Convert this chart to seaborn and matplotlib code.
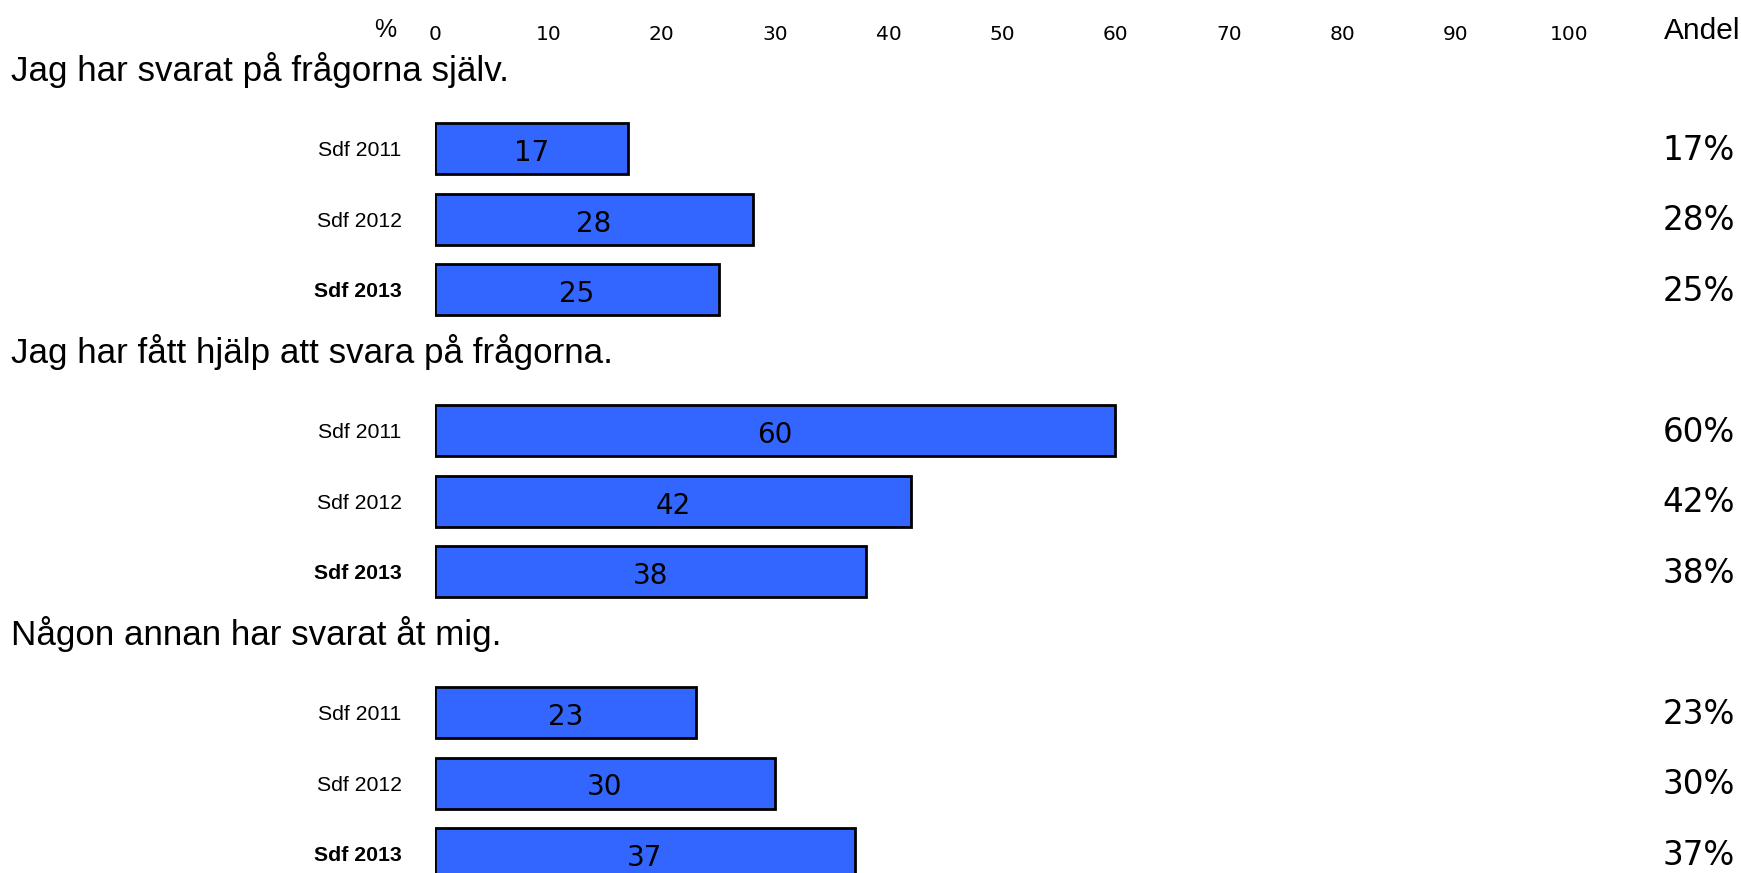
import numpy as np
import pandas as pd
import matplotlib
matplotlib.use("Agg")
import matplotlib.pyplot as plt
import matplotlib.transforms as mtransforms
import seaborn as sns

# ---- data ----
questions = [
    "Jag har svarat på frågorna själv.",
    "Jag har fått hjälp att svara på frågorna.",
    "Någon annan har svarat åt mig.",
]
years = ["Sdf 2011", "Sdf 2012", "Sdf 2013"]
values_q1 = [17, 28, 25]
values_q2 = [60, 42, 38]
values_q3 = [23, 30, 37]
x_ticks = [0, 10, 20, 30, 40, 50, 60, 70, 80, 90, 100]

all_values = [values_q1, values_q2, values_q3]

rows = []
order = []
ylabels = []
for qi, (q, vals) in enumerate(zip(questions, all_values)):
    key = f"title{qi}"
    rows.append({"key": key, "value": np.nan})
    order.append(key)
    ylabels.append("")
    for y, v in zip(years, vals):
        k = f"q{qi}|{y}"
        rows.append({"key": k, "value": v})
        order.append(k)
        ylabels.append(y)
df = pd.DataFrame(rows)

sns.set_theme(style="white")
plt.rcParams["font.family"] = ["Liberation Sans", "DejaVu Sans"]

W, H = 1741, 873
fig = plt.figure(figsize=(W / 100, H / 100), dpi=100)
ax_left = 435 / W
ax_right = 1569 / W
ax_top = 1 - 43.1 / H
ax_bottom = 1 - 889 / H
ax = fig.add_axes([ax_left, ax_bottom, ax_right - ax_left, ax_top - ax_bottom])

sns.barplot(data=df, x="value", y="key", order=order, orient="h",
            color="#3366FF", saturation=1, width=0.72, errorbar=None,
            edgecolor="black", linewidth=2, ax=ax)

ax.set_xlim(0, 100)
ax.set_ylim(len(order) - 0.5, -0.5)
ax.set_xlabel("")
ax.set_ylabel("")
for s in ax.spines.values():
    s.set_visible(False)
ax.grid(False)

# x ticks on top
ax.xaxis.tick_top()
ax.set_xticks(x_ticks)
ax.set_xticklabels([str(t) for t in x_ticks], fontsize=14.5,
                   family=["DejaVu Sans"])
ax.tick_params(axis="x", length=0, pad=-1, colors="black")

# y labels
ax.set_yticks(range(len(order)))
ax.set_yticklabels(ylabels, fontsize=15.3)
ax.tick_params(axis="y", length=0, pad=24, colors="black")
for lbl in ax.get_yticklabels():
    if lbl.get_text() == years[-1]:
        lbl.set_fontweight("bold")

# section titles
trans_title = mtransforms.blended_transform_factory(fig.transFigure, ax.transData)
for qi, q in enumerate(questions):
    ypos = order.index(f"title{qi}")
    ax.text(11 / W, ypos - 0.12, q, transform=trans_title, ha="left", va="center",
            fontsize=25.2, color="black", clip_on=False)

# bar value labels and right-hand percentages
trans_pct = mtransforms.blended_transform_factory(fig.transFigure, ax.transData)
flat_vals = [v for vals in all_values for v in vals]
bars = [p for p in ax.patches if np.isfinite(p.get_width()) and p.get_width() > 0]
for p, v in zip(bars, flat_vals):
    yc = p.get_y() + p.get_height() / 2
    ax.text(p.get_x() + p.get_width() / 2, yc + 0.06, f"{v}", ha="center", va="center",
            fontsize=20, family=["DejaVu Sans"], color="black")
    ax.text(1735 / W, yc + 0.02, f"{v}%", transform=trans_pct, ha="right", va="center",
            fontsize=23.5, family=["DejaVu Sans"], color="black", clip_on=False)

# header texts
fig.text(396 / W, 1 - 30 / H, "%", ha="right", va="center", fontsize=18, color="black")
fig.text(1740 / W, 1 - 31 / H, "Andel", ha="right", va="center", fontsize=21.5, color="black")

fig.savefig("out.png", dpi=100, facecolor="white")
